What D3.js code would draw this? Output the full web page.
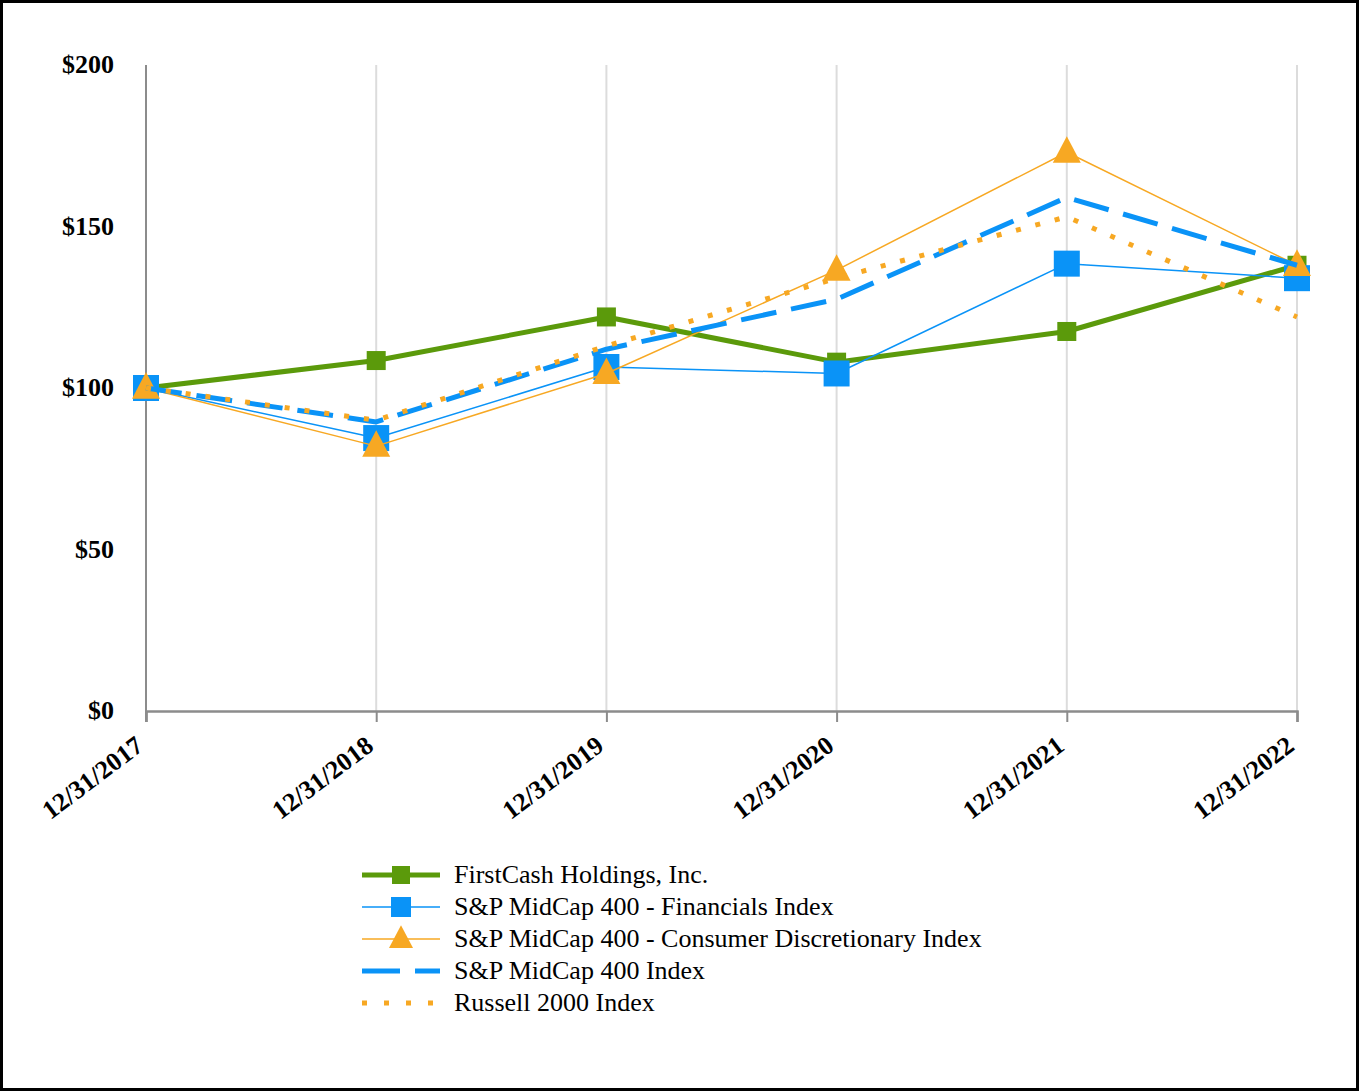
<!DOCTYPE html>
<meta charset="utf-8">
<style>
  body { margin: 0; background: #fff; }
  .ylab { font-family: "Liberation Serif", serif; font-size: 26px; font-weight: bold; }
  .xlab { font-family: "Liberation Serif", serif; font-size: 26px; font-weight: bold; }
  .leg { font-family: "Liberation Serif", serif; font-size: 26px; }
</style>
<body>
<script src="https://cdn.jsdelivr.net/npm/d3@7"></script>
<script>

var width = 1360
var height = 1092

// data
var dates = ["12/31/2017", "12/31/2018", "12/31/2019", "12/31/2020", "12/31/2021", "12/31/2022"]
var yTicks = [0, 50, 100, 150, 200]

var firstCash = [100, 108.5, 122, 108, 117.5, 138]
var financials = [100, 84.5, 106.5, 104.5, 138.5, 134]
var consumerDisc = [100, 82, 104.5, 136.5, 173, 138]
var midCap400 = [100, 89.5, 112, 127.5, 159, 138]
var russell2000 = [100, 90, 113, 134, 153, 122]

var series = [
  { name: "FirstCash Holdings, Inc.", values: firstCash, color: "#5b9a0b", width: 5, dash: null, marker: "square", size: 19 },
  { name: "S&P MidCap 400 - Financials Index", values: financials, color: "#0a93f7", width: 1.5, dash: null, marker: "square", size: 26 },
  { name: "S&P MidCap 400 - Consumer Discretionary Index", values: consumerDisc, color: "#f7a823", width: 1.5, dash: null, marker: "triangle", size: 28 },
  { name: "S&P MidCap 400 Index", values: midCap400, color: "#0a93f7", width: 5, dash: "36,15", marker: null },
  { name: "Russell 2000 Index", values: russell2000, color: "#f7a823", width: 5, dash: "5,15", marker: null }
]

var svg = d3.select("body")
      .append("svg")
      .attr("width", width)
      .attr("height", height);

// outer frame
svg.append("rect")
  .attr("x", 1.5).attr("y", 1.5)
  .attr("width", width - 4).attr("height", height - 4)
  .attr("fill", "#fff")
  .attr("stroke", "#000")
  .attr("stroke-width", 3);

var x = d3.scalePoint().domain(dates).range([146, 1297]);
var y = d3.scaleLinear().domain([0, 200]).range([711, 65]);

// vertical gridlines
svg.selectAll(".vgrid")
  .data(dates.slice(1))
  .enter()
  .append("line")
    .attr("x1", function (d) { return x(d); })
    .attr("x2", function (d) { return x(d); })
    .attr("y1", y(200)).attr("y2", y(0))
    .attr("stroke", "#dcdcdc")
    .attr("stroke-width", 2);

// y axis line
svg.append("line")
  .attr("x1", x(dates[0])).attr("x2", x(dates[0]))
  .attr("y1", y(200)).attr("y2", y(0) + 11)
  .attr("stroke", "#8c8c8c").attr("stroke-width", 2);

// x axis with ticks
var xAxis = svg.append("g")
  .attr("transform", "translate(0," + y(0) + ")")
  .call(d3.axisBottom(x).tickSize(11).tickFormat(""));
xAxis.select(".domain").attr("stroke", "#8c8c8c").attr("stroke-width", 2.5);
xAxis.selectAll(".tick line").attr("stroke", "#8c8c8c").attr("stroke-width", 2);

// x labels, rotated
svg.selectAll(".xlab")
  .data(dates)
  .enter()
  .append("text")
    .attr("class", "xlab")
    .attr("text-anchor", "end")
    .attr("transform", function (d) {
      return "translate(" + (x(d) - 1) + "," + (y(0) + 38) + ") rotate(-37)";
    })
    .text(function (d) { return d; });

// y labels
svg.selectAll(".ylab")
  .data(yTicks)
  .enter()
  .append("text")
    .attr("class", "ylab")
    .attr("text-anchor", "end")
    .attr("x", 114)
    .attr("y", function (d) { return y(d) + 8; })
    .text(function (d) { return "$" + d; });

var line = d3.line()
  .x(function (d, i) { return x(dates[i]); })
  .y(function (d) { return y(d); });

function drawMarker(g, type, size, color, cx, cy) {
  if (type === "square") {
    g.append("rect")
      .attr("x", cx - size / 2).attr("y", cy - size / 2)
      .attr("width", size).attr("height", size)
      .attr("fill", color);
  } else if (type === "triangle") {
    var h = size * 0.95;
    g.append("path")
      .attr("d", "M" + cx + "," + (cy - h * 0.6) +
                 "L" + (cx + size / 2) + "," + (cy + h * 0.4) +
                 "L" + (cx - size / 2) + "," + (cy + h * 0.4) + "Z")
      .attr("fill", color);
  }
}

series.forEach(function (s) {
  var g = svg.append("g");
  g.append("path")
    .datum(s.values)
    .attr("d", line)
    .attr("fill", "none")
    .attr("stroke", s.color)
    .attr("stroke-width", s.width)
    .attr("stroke-dasharray", s.dash)
    .attr("stroke-linejoin", "round");
  if (s.marker) {
    s.values.forEach(function (v, i) {
      drawMarker(g, s.marker, s.size, s.color, x(dates[i]), y(v));
    });
  }
});

// legend
var legend = svg.append("g").attr("transform", "translate(362,875)");
series.forEach(function (s, i) {
  var row = legend.append("g").attr("transform", "translate(0," + (i * 32) + ")");
  row.append("line")
    .attr("x1", 0).attr("x2", 78)
    .attr("y1", 0).attr("y2", 0)
    .attr("stroke", s.color)
    .attr("stroke-width", s.width)
    .attr("stroke-dasharray", s.dash === "36,15" ? "38,15" : (s.dash ? "5,17" : null));
  if (s.marker) drawMarker(row, s.marker, s.marker === "triangle" ? 24 : (s.size === 19 ? 18 : 20), s.color, 39, 0);
  row.append("text")
    .attr("class", "leg")
    .attr("x", 92)
    .attr("y", 8)
    .text(s.name);
});

</script>
</body>
